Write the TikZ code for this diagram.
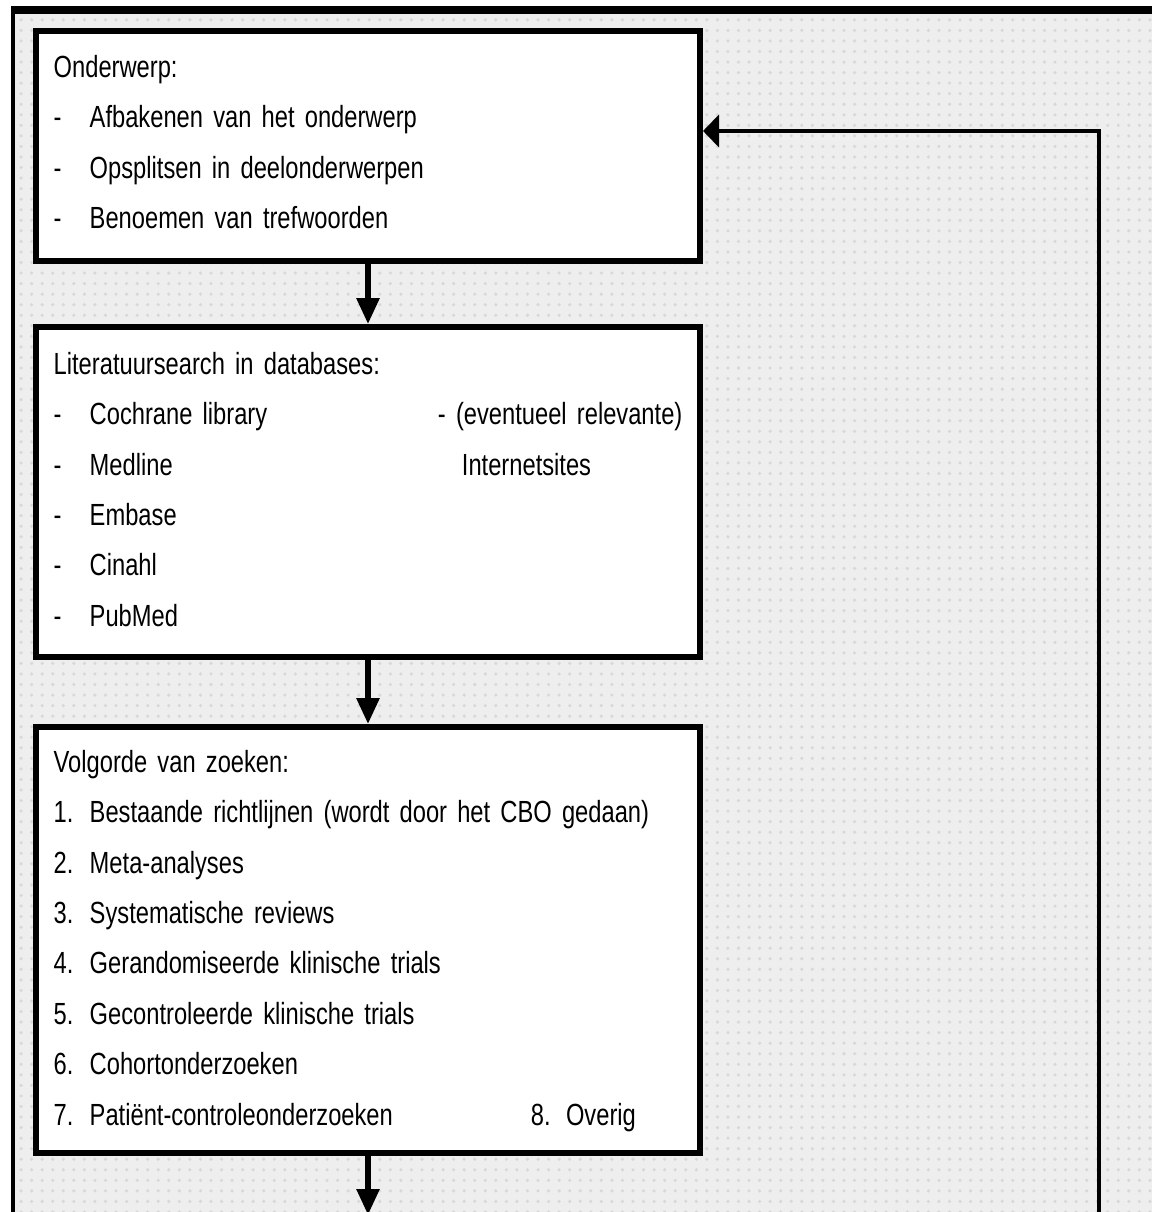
\documentclass[tikz,border=0pt]{standalone}
\usepackage{fontspec}
\setmainfont{Liberation Sans}[FakeStretch=0.775]
\usetikzlibrary{arrows.meta, positioning, calc, patterns}
\definecolor{myGrey}{RGB}{238,238,238}
\definecolor{myDots}{RGB}{216,216,216}
\newcommand{\streep}[1]{\makebox[0.36cm][l]{-}#1}
\newcommand{\nummer}[2]{\makebox[0.36cm][l]{#1.}#2}

\begin{document}
\begin{tikzpicture}[x=0.01cm, y=-0.01cm,
				box/.style={draw, line width=1.6pt, fill=white, minimum width=6.64cm, inner sep=0pt},
				txt/.style={anchor=base west, inner sep=0pt, text width=6.4cm, font=\fontsize{8.7pt}{14.35pt}\selectfont},
				arr/.style={-{Triangle[length=0.26cm, width=0.22cm]}, line width=1.6pt},
				fbarr/.style={-{Triangle[length=0.16cm, width=0.32cm]}, line width=1.4pt}
			]
				\useasboundingbox (0,0) rectangle (1152,1212);
				\clip (0,0) rectangle (1152,1212);

				% achtergrond en kader
				\fill[myGrey] (13,10) rectangle (1160,1230);
				\fill[pattern=dots, pattern color=myDots] (13,10) rectangle (1160,1230);
				\draw[line width=2pt] (11,10) -- (1160,10);
				\draw[line width=1.1pt] (13,10) -- (13,1230);

				\node[box, minimum height=2.3cm] (onderwerp) at (368,146) {};
				\node[box, minimum height=3.3cm] (search) at (368,492) {};
				\node[box, minimum height=4.26cm] (volgorde) at (368,940) {};

				\node[txt] (onderwerptxt) at ([xshift=0.2cm, yshift=-0.49cm]onderwerp.north west) {Onderwerp:\\
					\streep{Afbakenen van het onderwerp}\\
					\streep{Opsplitsen in deelonderwerpen}\\
					\streep{Benoemen van trefwoorden}};
				\node[txt] (searchtxt) at ([xshift=0.2cm, yshift=-0.50cm]search.north west) {Literatuursearch in databases:\\
					\makebox[3.84cm][l]{\streep{Cochrane library}}- (eventueel relevante)\\
					\makebox[4.08cm][l]{\streep{Medline}}Internetsites\\
					\streep{Embase}\\
					\streep{Cinahl}\\
					\streep{PubMed}};
				\node[txt] (volgordetxt) at ([xshift=0.2cm, yshift=-0.48cm]volgorde.north west) {Volgorde van zoeken:\\
					\nummer{1}{Bestaande richtlijnen (wordt door het CBO gedaan)}\\
					\nummer{2}{Meta-analyses}\\
					\nummer{3}{Systematische reviews}\\
					\nummer{4}{Gerandomiseerde klinische trials}\\
					\nummer{5}{Gecontroleerde klinische trials}\\
					\nummer{6}{Cohortonderzoeken}\\
					\makebox[4.77cm][l]{\nummer{7}{Patiënt-controleonderzoeken}}8. Overig};

				\coordinate (verder) at (368,1215);
				\coordinate (terug) at (1099,1230);

				\draw[arr] (onderwerp) -- (search);
				\draw[arr] (search) -- (volgorde);
				\draw[arr] (volgorde) -- (verder);
				\draw[fbarr] (terug) |- ([yshift=0.15cm]onderwerp.east);
			\end{tikzpicture}
\end{document}
